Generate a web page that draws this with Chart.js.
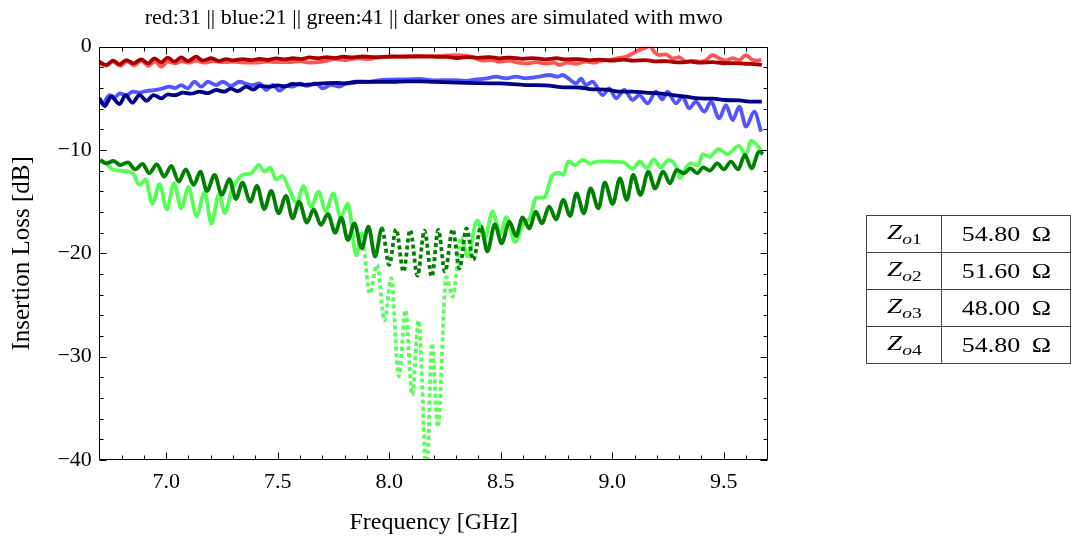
<!DOCTYPE html>
<html>
<head>
<meta charset="utf-8">
<title>Insertion Loss</title>
<script src="https://cdn.jsdelivr.net/npm/chart.js@4/dist/chart.umd.min.js"></script>
<style>
html, body { margin: 0; padding: 0; background: #fff; overflow: hidden; }
#wrap { position: relative; width: 1071px; height: 542px; }
#zTable { position: absolute; left: 866px; top: 215px; border-collapse: collapse;
  font-family: 'Liberation Serif', serif; font-size: 20px; color: #000; }
#zTable td { border: 1px solid #444; height: 36px; padding: 0; text-align: center; white-space: nowrap; }
#zTable td.name { width: 76px; }
#zTable td.val { width: 130px; }
#zTable span { display: inline-block; transform: scaleX(1.3); }
#zTable i.z { font-size: 21px; }
#zTable sub { font-size: 15px; }
</style>
</head>
<body>
<div id="wrap">
<canvas id="lossChart" width="1071" height="542"></canvas>
<table id="zTable"></table>
</div>
<script>
// values (GHz / dB)
const redMeasFreq = [6.700, 6.731, 6.761, 6.795, 6.825, 6.857, 6.888, 6.920, 6.950, 6.978, 7.007, 7.040, 7.070, 7.100, 7.134, 7.170, 7.210, 7.260, 7.300, 7.344, 7.400, 7.450, 7.493, 7.550, 7.600, 7.642, 7.700, 7.760, 7.800, 7.860, 7.900, 7.950, 8.000, 8.060, 8.120, 8.200, 8.260, 8.307, 8.370, 8.419, 8.460, 8.494, 8.540, 8.580, 8.613, 8.660, 8.703, 8.740, 8.763, 8.800, 8.840, 8.882, 8.920, 8.942, 8.975, 9.002, 9.040, 9.062, 9.092, 9.121, 9.150, 9.169, 9.188, 9.211, 9.241, 9.271, 9.300, 9.331, 9.360, 9.390, 9.420, 9.450, 9.480, 9.510, 9.540, 9.570, 9.599, 9.630, 9.652, 9.668];
const redMeasLoss = [-1.61, -1.82, -1.45, -1.85, -1.40, -1.80, -1.35, -1.85, -1.40, -1.94, -1.45, -1.60, -1.40, -1.55, -1.35, -1.55, -1.40, -1.50, -1.45, -1.52, -1.55, -1.45, -1.50, -1.50, -1.40, -1.55, -1.45, -1.20, -1.29, -1.13, -1.20, -1.05, -0.97, -0.95, -0.90, -0.92, -0.85, -0.81, -0.95, -1.35, -1.30, -1.45, -1.35, -1.55, -1.61, -1.50, -1.61, -1.55, -1.77, -1.55, -1.65, -1.45, -1.55, -1.40, -1.30, -1.23, -1.05, -0.97, -0.65, -0.32, -0.10, 0.12, -0.48, -0.81, -0.74, -1.13, -1.00, -1.45, -1.35, -1.45, -1.30, -0.81, -1.13, -1.35, -1.10, -1.30, -0.81, -1.29, -1.35, -1.23];

const redSimFreq = [6.700, 6.731, 6.761, 6.791, 6.821, 6.854, 6.888, 6.918, 6.948, 6.978, 7.007, 7.037, 7.067, 7.097, 7.134, 7.164, 7.202, 7.239, 7.269, 7.300, 7.344, 7.380, 7.418, 7.455, 7.493, 7.530, 7.568, 7.605, 7.642, 7.680, 7.717, 7.760, 7.792, 7.840, 7.880, 7.940, 8.016, 8.080, 8.135, 8.195, 8.260, 8.300, 8.345, 8.400, 8.450, 8.494, 8.540, 8.600, 8.643, 8.700, 8.750, 8.793, 8.850, 8.900, 8.942, 9.000, 9.050, 9.092, 9.150, 9.200, 9.241, 9.300, 9.350, 9.390, 9.450, 9.500, 9.540, 9.600, 9.640, 9.671];
const redSimLoss = [-1.45, -1.77, -1.35, -1.71, -1.29, -1.61, -1.23, -1.61, -1.13, -1.52, -1.06, -1.45, -1.03, -1.39, -0.97, -1.35, -1.10, -1.39, -1.20, -1.32, -1.20, -1.30, -1.18, -1.28, -1.13, -1.22, -1.12, -1.20, -1.03, -1.12, -1.02, -1.08, -0.97, -1.03, -0.95, -1.00, -0.95, -0.97, -0.95, -0.97, -0.98, -1.10, -1.00, -1.08, -1.00, -1.13, -1.05, -1.18, -1.10, -1.22, -1.12, -1.23, -1.20, -1.32, -1.25, -1.35, -1.25, -1.35, -1.30, -1.42, -1.40, -1.52, -1.45, -1.55, -1.50, -1.60, -1.58, -1.65, -1.68, -1.77];

const blueMeasFreq = [6.700, 6.716, 6.746, 6.770, 6.791, 6.820, 6.851, 6.880, 6.910, 6.955, 6.985, 7.015, 7.040, 7.067, 7.097, 7.127, 7.157, 7.187, 7.224, 7.254, 7.290, 7.329, 7.360, 7.388, 7.418, 7.448, 7.478, 7.508, 7.540, 7.568, 7.600, 7.630, 7.672, 7.702, 7.740, 7.777, 7.807, 7.840, 7.867, 7.910, 7.956, 8.000, 8.076, 8.135, 8.200, 8.285, 8.345, 8.390, 8.430, 8.479, 8.524, 8.568, 8.613, 8.673, 8.718, 8.755, 8.778, 8.808, 8.838, 8.860, 8.882, 8.912, 8.957, 8.987, 9.017, 9.054, 9.092, 9.121, 9.159, 9.196, 9.225, 9.248, 9.286, 9.315, 9.345, 9.375, 9.413, 9.443, 9.480, 9.510, 9.540, 9.570, 9.600, 9.637, 9.668];
const blueMeasLoss = [-5.00, -5.48, -4.68, -4.90, -4.52, -4.70, -4.35, -4.45, -4.29, -4.19, -4.03, -3.87, -4.00, -3.71, -4.03, -3.39, -3.87, -3.39, -3.71, -3.39, -3.80, -3.39, -3.60, -3.71, -3.55, -4.19, -3.70, -4.26, -3.80, -3.87, -3.55, -3.80, -3.55, -4.03, -3.70, -3.87, -3.55, -3.50, -3.39, -3.39, -3.23, -3.18, -3.16, -3.12, -3.25, -3.23, -3.30, -3.16, -3.10, -2.90, -3.06, -2.90, -3.06, -2.90, -2.74, -2.90, -2.74, -3.15, -3.55, -3.10, -3.71, -3.39, -4.68, -4.03, -5.00, -4.19, -5.16, -4.68, -5.48, -4.35, -5.10, -4.35, -5.48, -4.84, -5.97, -5.32, -6.29, -5.32, -6.94, -5.65, -7.10, -5.81, -7.74, -6.29, -8.23];

const blueSimFreq = [6.700, 6.724, 6.753, 6.791, 6.818, 6.848, 6.880, 6.913, 6.943, 6.978, 7.007, 7.040, 7.075, 7.110, 7.149, 7.185, 7.224, 7.260, 7.290, 7.320, 7.359, 7.390, 7.420, 7.463, 7.500, 7.530, 7.568, 7.620, 7.660, 7.702, 7.760, 7.800, 7.852, 7.950, 8.016, 8.080, 8.135, 8.200, 8.345, 8.494, 8.613, 8.700, 8.793, 8.850, 8.912, 8.970, 9.032, 9.090, 9.151, 9.211, 9.271, 9.331, 9.390, 9.450, 9.510, 9.570, 9.630, 9.671];
const blueSimLoss = [-5.00, -5.74, -4.84, -5.55, -4.68, -5.42, -4.68, -5.23, -4.68, -5.00, -4.61, -4.70, -4.45, -4.55, -4.35, -4.50, -4.19, -4.35, -4.05, -4.30, -3.87, -4.15, -3.80, -3.87, -3.75, -3.85, -3.61, -3.70, -3.62, -3.55, -3.50, -3.55, -3.39, -3.40, -3.39, -3.35, -3.35, -3.40, -3.50, -3.55, -3.71, -3.75, -3.94, -3.95, -4.13, -4.15, -4.35, -4.35, -4.45, -4.52, -4.68, -4.84, -5.00, -5.03, -5.16, -5.20, -5.32, -5.32];

const greenMeasFreq = [6.700, 6.731, 6.761, 6.821, 6.851, 6.880, 6.907, 6.938, 6.970, 7.003, 7.035, 7.067, 7.100, 7.136, 7.172, 7.203, 7.236, 7.263, 7.295, 7.320, 7.341, 7.381, 7.415, 7.441, 7.466, 7.493, 7.520, 7.550, 7.585, 7.615, 7.650, 7.683, 7.715, 7.750, 7.782, 7.815, 7.852, 7.876, 7.913, 7.945, 7.979, 8.009, 8.043, 8.073, 8.103, 8.132, 8.168, 8.192, 8.218, 8.256, 8.285, 8.322, 8.352, 8.395, 8.428, 8.463, 8.498, 8.525, 8.565, 8.600, 8.630, 8.660, 8.695, 8.730, 8.760, 8.782, 8.803, 8.835, 8.868, 8.900, 8.935, 8.975, 9.012, 9.050, 9.093, 9.123, 9.156, 9.187, 9.218, 9.252, 9.290, 9.303, 9.334, 9.355, 9.385, 9.405, 9.437, 9.477, 9.515, 9.568, 9.598, 9.623, 9.648, 9.668];
const greenMeasLoss = [-11.05, -11.29, -11.90, -12.05, -12.26, -13.38, -12.84, -15.20, -13.30, -15.74, -13.20, -15.64, -13.60, -16.40, -14.10, -17.10, -14.30, -16.10, -13.80, -12.90, -12.42, -12.26, -11.45, -12.10, -11.67, -12.84, -12.50, -13.70, -15.10, -13.50, -15.50, -14.00, -15.90, -14.20, -16.50, -15.20, -20.20, -18.10, -23.90, -21.10, -26.50, -22.40, -31.90, -25.50, -33.70, -26.50, -41.50, -28.70, -36.80, -22.30, -24.20, -18.50, -20.30, -16.80, -18.60, -15.97, -18.10, -16.50, -18.90, -17.20, -16.60, -14.60, -14.60, -12.50, -12.20, -12.40, -11.10, -11.45, -10.95, -11.30, -11.12, -11.10, -11.15, -11.20, -11.82, -11.10, -11.75, -10.90, -11.70, -10.96, -11.77, -12.70, -11.60, -11.29, -11.50, -10.40, -10.65, -9.90, -10.40, -9.60, -10.48, -9.10, -9.50, -10.05];

const greenSimFreq = [6.705, 6.730, 6.764, 6.794, 6.828, 6.861, 6.894, 6.924, 6.958, 6.991, 7.023, 7.056, 7.088, 7.123, 7.153, 7.183, 7.217, 7.250, 7.283, 7.313, 7.342, 7.377, 7.407, 7.440, 7.471, 7.504, 7.537, 7.567, 7.596, 7.631, 7.661, 7.694, 7.725, 7.758, 7.785, 7.815, 7.844, 7.877, 7.907, 7.937, 7.967, 8.000, 8.031, 8.064, 8.094, 8.127, 8.158, 8.191, 8.220, 8.250, 8.285, 8.315, 8.347, 8.377, 8.412, 8.440, 8.474, 8.504, 8.539, 8.569, 8.598, 8.628, 8.658, 8.684, 8.718, 8.748, 8.781, 8.811, 8.840, 8.873, 8.903, 8.938, 8.967, 9.002, 9.035, 9.065, 9.094, 9.127, 9.162, 9.192, 9.229, 9.259, 9.289, 9.322, 9.351, 9.381, 9.408, 9.438, 9.471, 9.501, 9.532, 9.565, 9.595, 9.625, 9.659, 9.677];
const greenSimLoss = [-10.96, -11.29, -11.06, -11.45, -11.19, -11.87, -11.35, -12.25, -11.38, -12.58, -11.54, -13.06, -11.87, -13.38, -12.09, -13.96, -12.41, -14.35, -12.83, -14.74, -13.16, -15.00, -13.48, -15.71, -13.96, -16.12, -14.45, -16.61, -15.00, -17.03, -15.74, -17.25, -16.19, -18.00, -16.54, -18.71, -17.09, -19.51, -17.41, -20.32, -17.58, -21.12, -17.67, -21.77, -17.74, -22.16, -17.80, -22.25, -17.74, -21.77, -17.67, -21.45, -17.58, -20.64, -17.41, -19.83, -17.19, -19.03, -16.93, -18.32, -16.51, -17.58, -15.96, -17.09, -15.48, -16.71, -14.83, -16.38, -14.19, -16.12, -13.71, -15.64, -13.16, -15.22, -12.74, -14.83, -12.41, -14.35, -12.09, -13.71, -12.09, -13.22, -11.93, -12.25, -11.77, -12.25, -11.67, -11.99, -11.29, -11.87, -11.12, -11.87, -10.48, -11.77, -10.16, -10.38];

// axis ticks
const xTicks = [7.0, 7.5, 8.0, 8.5, 9.0, 9.5];
const xMinorTicks = [6.8, 6.9, 7.1, 7.2, 7.3, 7.4, 7.6, 7.7, 7.8, 7.9, 8.1, 8.2, 8.3, 8.4, 8.6, 8.7, 8.8, 8.9, 9.1, 9.2, 9.3, 9.4, 9.6];
const yTicks = [0, -10, -20, -30, -40];
const yMinorTicks = [-2, -4, -6, -8, -12, -14, -16, -18, -22, -24, -26, -28, -32, -34, -36, -38];

// impedance table
const zIndex = ['1', '2', '3', '4'];
const zOhms = [54.80, 51.60, 48.00, 54.80];

function toPoints(freq, loss) {
    return freq.map((f, i) => ({ x: f, y: loss[i] }));
}

function lineSet(label, freq, loss, color, order, dotBelow) {
    return {
        label: label,
        data: toPoints(freq, loss),
        borderColor: color,
        borderWidth: 3.8,
        pointRadius: 0,
        cubicInterpolationMode: 'monotone',
        borderJoinStyle: 'round',
        borderCapStyle: 'butt',
        order: order,
        segment: {
            // steep deep dips look dotted in the original
            borderDash: c => (dotBelow !== null && Math.min(c.p0.parsed.y, c.p1.parsed.y) < dotBelow) ? [4, 3] : undefined
        }
    };
}

// frame with inward ticks on all four sides
const framePlugin = {
    id: 'frame',
    afterDatasetsDraw(chart) {
        const { ctx, chartArea: a, scales: { x, y } } = chart;
        const L = Math.round(a.left) + 0.5, R = Math.round(a.right) - 0.5;
        const T = Math.round(a.top) + 0.5, B = Math.round(a.bottom) - 0.5;
        ctx.save();
        ctx.strokeStyle = '#000';
        ctx.lineWidth = 1;
        ctx.beginPath();
        ctx.rect(L, T, R - L, B - T);
        const xMark = (v, len) => {
            const p = Math.round(x.getPixelForValue(v)) + 0.5;
            ctx.moveTo(p, B); ctx.lineTo(p, B - len);
            ctx.moveTo(p, T); ctx.lineTo(p, T + len);
        };
        const yMark = (v, len) => {
            const p = Math.round(y.getPixelForValue(v)) + 0.5;
            ctx.moveTo(L, p); ctx.lineTo(L + len, p);
            ctx.moveTo(R, p); ctx.lineTo(R - len, p);
        };
        xTicks.forEach(v => xMark(v, 7));
        xMinorTicks.forEach(v => xMark(v, 4));
        yTicks.forEach(v => yMark(v, 7));
        yMinorTicks.forEach(v => yMark(v, 4));
        ctx.stroke();
        ctx.restore();
    }
};

function renderChart() {
    Chart.defaults.font.family = "'Liberation Serif', serif";
    Chart.defaults.color = '#000';
    const ctx = document.getElementById('lossChart').getContext('2d');
    new Chart(ctx, {
        type: 'line',
        data: {
            datasets: [
                lineSet('red meas', redMeasFreq, redMeasLoss, '#ff5555', 2, null),
                lineSet('red mwo', redSimFreq, redSimLoss, '#a80000', 1, null),
                lineSet('blue meas', blueMeasFreq, blueMeasLoss, '#5555ff', 2, null),
                lineSet('blue mwo', blueSimFreq, blueSimLoss, '#00008b', 1, null),
                lineSet('green meas', greenMeasFreq, greenMeasLoss, '#55ff55', 2, -20.5),
                lineSet('green mwo', greenSimFreq, greenSimLoss, '#008000', 1, -20.5)
            ]
        },
        plugins: [framePlugin],
        options: {
            responsive: false,
            animation: false,
            layout: { padding: { left: 0, right: 302.7, top: 0, bottom: 0 } },
            plugins: {
                legend: { display: false },
                tooltip: { enabled: false },
                title: {
                    display: true,
                    fullSize: false,
                    text: 'red:31 || blue:21 || green:41 || darker ones are simulated with mwo',
                    font: { size: 22, weight: 'normal' },
                    padding: { top: 5, bottom: 15.3 }
                }
            },
            scales: {
                x: {
                    type: 'linear',
                    min: 6.7,
                    max: 9.7,
                    afterBuildTicks: s => { s.ticks = xTicks.map(v => ({ value: v })); },
                    afterFit: s => { s.height = 82; },
                    ticks: {
                        callback: v => v.toFixed(1),
                        font: { size: 22 },
                        padding: 8.8,
                        maxRotation: 0
                    },
                    grid: { display: false, drawTicks: false },
                    border: { display: false },
                    title: {
                        display: true,
                        text: 'Frequency [GHz]',
                        font: { size: 24 },
                        padding: { top: 0, bottom: 4.6 }
                    }
                },
                y: {
                    min: -40,
                    max: 0,
                    afterBuildTicks: s => { s.ticks = yTicks.map(v => ({ value: v })); },
                    afterFit: s => { s.width = 99.3; },
                    ticks: {
                        callback: v => v < 0 ? '\u2212' + Math.abs(v) : String(v),
                        font: { size: 22 },
                        padding: 7.5
                    },
                    grid: { display: false, drawTicks: false },
                    border: { display: false },
                    title: {
                        display: true,
                        text: 'Insertion Loss [dB]',
                        font: { size: 25 },
                        padding: { top: 7, bottom: 0 }
                    }
                }
            }
        }
    });
}

function renderTable() {
    const table = document.getElementById('zTable');
    zIndex.forEach((k, i) => {
        const row = table.insertRow();
        const name = row.insertCell();
        name.className = 'name';
        name.innerHTML = '<span><i class="z">Z</i><sub><i>o</i>' + k + '</sub></span>';
        const val = row.insertCell();
        val.className = 'val';
        val.innerHTML = '<span>' + zOhms[i].toFixed(2) + ' \u2009\u03A9</span>';
    });
}

renderChart();
renderTable();
</script>
</body>
</html>
